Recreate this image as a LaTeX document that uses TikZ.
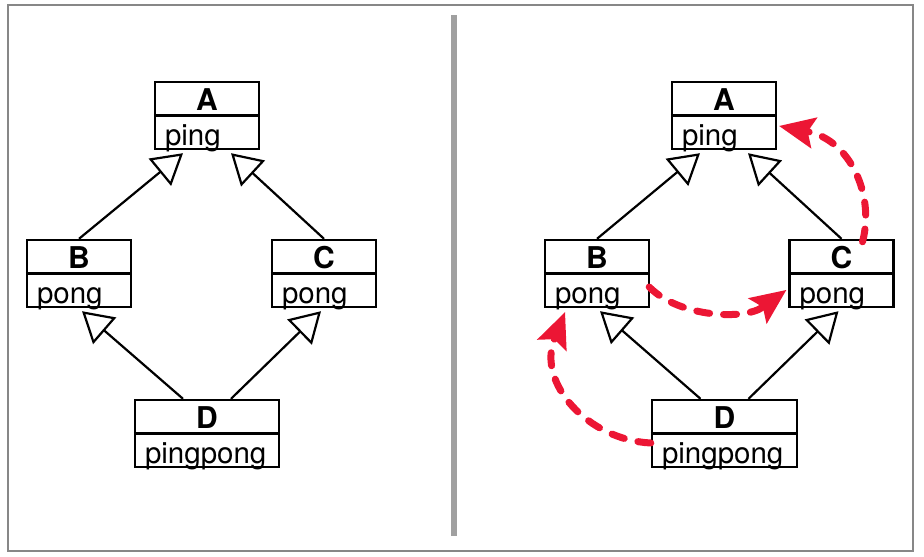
\documentclass[tikz,border=0pt]{standalone}
\usepackage{fontspec}
\setmainfont{TeX Gyre Heros}
\usetikzlibrary{arrows.meta}
\definecolor{hotred}{RGB}{236,22,52}
\definecolor{framegray}{RGB}{135,135,135}
\definecolor{sepgray}{RGB}{160,160,160}
\newcommand{\umlcls}[6]{%
  \node[classbox, minimum width=#4pt] (#1) at (#2, #3+33.5) {};
  \draw[boxline] (#1.west) -- (#1.east);
  \node[txt, anchor=base, font=\fontsize{30}{34}\selectfont\bfseries] (#1-name) at (#2, #3+28) {#5};
  \node[txt, anchor=base west] (#1-attr) at ([xshift=11pt]#1.west |- 0,#3+63) {#6};
}
\begin{document}
\begin{tikzpicture}[x=1pt, y=-1pt,
  classbox/.style={draw, line width=2.4pt, minimum height=67pt, inner sep=0pt},
  boxline/.style={line width=2.4pt},
  txt/.style={inner sep=0pt, font=\fontsize{29.5}{34}\selectfont},
  gen/.style={line width=2.2pt, -{Triangle[length=30pt, width=35pt, fill=white, line width=2.2pt]}},
  flow/.style={hotred, line width=7pt, line cap=round, dash pattern=on 13pt off 14pt,
    -{Stealth[length=36pt, width=32pt, inset=7pt, line width=0pt]}}]
\useasboundingbox (0,0) rectangle (924,557);
% frame and separator
\draw[framegray, line width=1.5pt] (8,5) rectangle (913,551);
\draw[sepgray, line width=6pt] (453.5,15) -- (453.5,536);
% left panel
\umlcls{LA}{207}{82}{104}{A}{ping}
\umlcls{LB}{79}{240}{104}{B}{pong}
\umlcls{LC}{324}{240}{104}{C}{pong}
\umlcls{LD}{207}{400}{144}{D}{pingpong}
\draw[gen] (LB.north) -- ([xshift=-24pt, yshift=-3pt]LA.south);
\draw[gen] (LC.north) -- ([xshift=24pt, yshift=-3pt]LA.south);
\draw[gen] ([xshift=-24pt]LD.north) -- ([xshift=3pt, yshift=-3pt]LB.south);
\draw[gen] ([xshift=24pt]LD.north) -- ([xshift=-3pt, yshift=-3pt]LC.south);
% right panel
\umlcls{RA}{724}{82}{104}{A}{ping}
\umlcls{RB}{597}{240}{104}{B}{pong}
\umlcls{RC}{841.5}{240}{104}{C}{pong}
\umlcls{RD}{724.5}{400}{145}{D}{pingpong}
\draw[gen] (RB.north) -- ([xshift=-24pt, yshift=-3pt]RA.south);
\draw[gen] (RC.north) -- ([xshift=24pt, yshift=-3pt]RA.south);
\draw[gen] ([xshift=-24pt]RD.north) -- ([xshift=3pt, yshift=-3pt]RB.south);
\draw[gen] ([xshift=24pt]RD.north) -- ([xshift=-3pt, yshift=-3pt]RC.south);
% red dashed calls
\draw[flow] ([xshift=21pt, yshift=-3pt]RC.north) .. controls (875,195) and (850,140) .. ([xshift=2pt, yshift=-10.5pt]RA.east);
\draw[flow] ([xshift=-1pt, yshift=-13.5pt]RB.east) .. controls (680,318) and (745,320) .. ([xshift=-2pt, yshift=-16.5pt]RC.west);
\draw[flow] ([yshift=-9.5pt]RD.west) .. controls (588,440) and (537,383) .. ([xshift=-32pt, yshift=-4pt]RB.south);
\end{tikzpicture}
\end{document}
